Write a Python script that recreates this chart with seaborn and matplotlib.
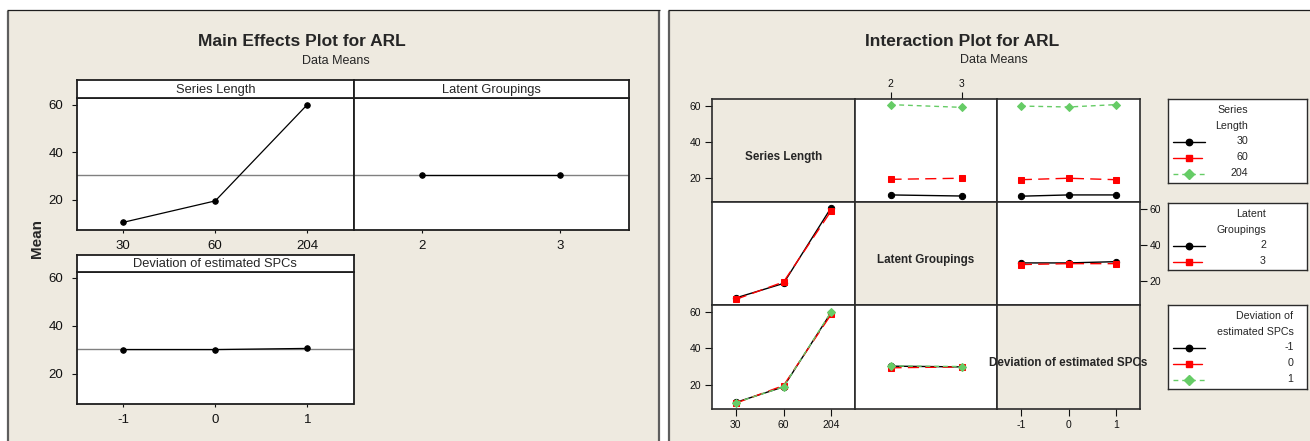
import matplotlib
matplotlib.use("Agg")
import matplotlib.pyplot as plt
from matplotlib.patches import Rectangle
from matplotlib.lines import Line2D
import pandas as pd
import seaborn as sns

# ---- factor levels ----
series_levels = ["30", "60", "204"]
latent_levels = ["2", "3"]
dev_levels = ["-1", "0", "1"]

# ---- main effects: mean ARL at each level ----
series_means = [10.6, 19.6, 60.0]
latent_means = [30.4, 30.4]
dev_means = [30.1, 30.1, 30.6]
grand_mean = 30.3

# ---- interaction means: trace level -> means across the x-factor levels ----
series_by_latent = {"30": [10.8, 10.2], "60": [19.4, 20.0], "204": [60.6, 59.1]}
series_by_dev = {"30": [10.1, 10.8, 10.8], "60": [19.2, 20.0, 19.2], "204": [59.8, 59.3, 60.6]}
latent_by_series = {"2": [10.8, 18.8, 60.6], "3": [10.0, 19.6, 58.8]}
latent_by_dev = {"2": [30.1, 30.1, 30.8], "3": [29.2, 29.7, 29.7]}
dev_by_series = {"-1": [10.5, 19.0, 59.6], "0": [10.1, 19.7, 58.6], "1": [10.4, 19.0, 60.0]}
dev_by_latent = {"-1": [30.3, 29.9], "0": [29.4, 29.9], "1": [30.4, 30.1]}

factor_names = ["Series Length", "Latent Groupings", "Deviation of estimated SPCs"]
legend_titles = [["Series", "Length"], ["Latent", "Groupings"], ["Deviation of", "estimated SPCs"]]
y_ticks = [20, 40, 60]

# ---- styling ----
sns.set_theme(style="white")
plt.rcParams["font.family"] = ["Liberation Sans", "DejaVu Sans"]

BG = "#EEEAE0"
FRAME = "#2b2b2b"
trace_colors = ["#000000", "#FF0000", "#66CC66"]
trace_markers = ["o", "s", "D"]
trace_dashes = ["-", (0, (8, 4.5)), (0, (3.5, 2.8))]

W, H = 1310, 441
fig = plt.figure(figsize=(W / 100, H / 100), dpi=100, facecolor="white")


def fx(x):
    return x / W


def fy(y):
    return 1 - y / H


def frac(x0, y0, x1, y1):
    return [x0 / W, 1 - y1 / H, (x1 - x0) / W, (y1 - y0) / H]


def style_spines(ax, color=FRAME, lw=1.2):
    for s in ax.spines.values():
        s.set_visible(True)
        s.set_color(color)
        s.set_linewidth(lw)


# ---- two graph windows ----
for x0, x1 in [(7, 660), (668, 1320)]:
    fig.patches.append(Rectangle((fx(x0), 0), fx(x1) - fx(x0), fy(9.5),
                                 transform=fig.transFigure, facecolor=BG,
                                 edgecolor="none", zorder=-10))
    fig.lines.append(Line2D([fx(x0 + 1), fx(x0 + 1)], [0, fy(10.5)], transform=fig.transFigure,
                            color="#5e5e5e", lw=1.6, solid_capstyle="butt", zorder=-5))
    fig.lines.append(Line2D([fx(x0), fx(x1)], [fy(9.5), fy(9.5)], transform=fig.transFigure,
                            color="#1e1e1e", lw=0.9, solid_capstyle="butt", zorder=-5))
fig.lines.append(Line2D([fx(659), fx(659)], [0, fy(10.5)], transform=fig.transFigure,
                        color="#5e5e5e", lw=1.6, solid_capstyle="butt", zorder=-5))

# ================= Main effects plot =================
fig.text(fx(302), fy(41.7), "Main Effects Plot for ARL", ha="center", va="center",
         fontsize=12.5, fontweight="bold")
fig.text(fx(336), fy(61), "Data Means", ha="center", va="center", fontsize=9)
fig.text(fx(37), fy(238), "Mean", ha="center", va="center", rotation=90,
         fontsize=11, fontweight="bold")


def effect_panel(box, head, title, levels, means, left_ticks):
    x0, y0, x1, y1 = box
    ax = fig.add_axes(frac(x0, y0 + head, x1, y1))
    ax.set_facecolor("white")
    ax.axhline(grand_mean, color="#808080", lw=1.0, zorder=1)
    df = pd.DataFrame({"level": levels, "ARL": means})
    sns.pointplot(data=df, x="level", y="ARL", order=levels, color="black",
                  markers="o", linestyles="-", errorbar=None,
                  markersize=4, linewidth=0.9, ax=ax, zorder=3)
    ax.set_xlim(-0.5, len(levels) - 0.5)
    ax.set_ylim(7.4, 62.6)
    ax.set_yticks(y_ticks)
    ax.set_xlabel("")
    ax.set_ylabel("")
    style_spines(ax, "#1e1e1e", 1.3)
    ax.tick_params(axis="x", bottom=True, length=2.5, width=0.8, pad=5,
                   labelsize=9.5, colors="#111111")
    if left_ticks:
        ax.tick_params(axis="y", left=True, length=3.5, width=0.8, pad=6.5,
                       labelsize=9.5, colors="#111111")
    else:
        ax.tick_params(axis="y", left=False, labelleft=False)

    hx = fig.add_axes(frac(x0, y0, x1, y0 + head))
    hx.set_facecolor("white")
    hx.set_xticks([])
    hx.set_yticks([])
    style_spines(hx, "#1e1e1e", 1.3)
    hx.text(0.5, 0.45, title, ha="center", va="center", fontsize=9.3,
            transform=hx.transAxes)
    return ax


effect_panel((77, 80, 353.5, 230), 18.3, factor_names[0], series_levels, series_means, True)
effect_panel((353.5, 80, 629, 230), 18.3, factor_names[1], latent_levels, latent_means, False)
effect_panel((77, 254.7, 353.5, 404), 17, factor_names[2], dev_levels, dev_means, True)

# ================= Interaction plot =================
fig.text(fx(962), fy(41.7), "Interaction Plot for ARL", ha="center", va="center",
         fontsize=12.5, fontweight="bold")
fig.text(fx(994), fy(60), "Data Means", ha="center", va="center", fontsize=9)

xs = [712, 855, 997, 1140]
ys = [99, 202, 305, 409]
factor_levels = [series_levels, latent_levels, dev_levels]
tables = {(0, 1): series_by_latent, (0, 2): series_by_dev,
          (1, 0): latent_by_series, (1, 2): latent_by_dev,
          (2, 0): dev_by_series, (2, 1): dev_by_latent}

for r in range(3):
    for c in range(3):
        ax = fig.add_axes(frac(xs[c], ys[r], xs[c + 1], ys[r + 1]))
        xl = factor_levels[c]
        if r == c:
            ax.set_facecolor(BG)
            ax.text(0.5, 0.44, factor_names[r], ha="center", va="center",
                    fontsize=8.4, fontweight="bold", transform=ax.transAxes,
                    zorder=5)
        else:
            trace = factor_levels[r]
            table = tables[(r, c)]
            rows = [(t, x, v) for t in trace for x, v in zip(xl, table[t])]
            df = pd.DataFrame(rows, columns=["trace", "x", "ARL"])
            n = len(trace)
            ax.set_facecolor("white")
            sns.pointplot(data=df, x="x", y="ARL", hue="trace", order=xl,
                          hue_order=trace, palette=trace_colors[:n],
                          markers=trace_markers[:n], linestyles=trace_dashes[:n],
                          errorbar=None, legend=False, markersize=4.5,
                          linewidth=1.0, ax=ax)
        ax.set_xlim(-0.5, len(xl) - 0.5)
        ax.set_ylim(6.9, 63.7)
        ax.set_xlabel("")
        ax.set_ylabel("")
        ax.set_xticks(range(len(xl)))
        ax.set_xticklabels(xl)
        ax.set_yticks(y_ticks)
        style_spines(ax, FRAME, 1.2)
        ax.tick_params(which="both", left=False, right=False, top=False, bottom=False,
                       labelleft=False, labelright=False, labeltop=False,
                       labelbottom=False, labelsize=7.5, length=5, width=0.8,
                       pad=2.5, colors="#111111")
        if c == 0 and r != 1:
            ax.tick_params(axis="y", left=True, labelleft=True, pad=3)
        if c == 2 and r == 1:
            ax.tick_params(axis="y", right=True, labelright=True, pad=2)
        if r == 0 and c == 1:
            ax.tick_params(axis="x", top=True, labeltop=True, pad=2)
        if r == 2 and c in (0, 2):
            ax.tick_params(axis="x", bottom=True, labelbottom=True, pad=3)

# ---- legends for the trace factors ----
legend_boxes = [(1168, 99, 1307, 183), (1168, 203, 1307, 270), (1168, 305, 1307, 389)]
legend_right = [80, 98, 125.5]
for i, box in enumerate(legend_boxes):
    x0, y0, x1, y1 = box
    lx = fig.add_axes(frac(x0, y0, x1, y1))
    lx.set_facecolor("white")
    lx.set_xlim(0, x1 - x0)
    lx.set_ylim(y1 - y0, 0)
    lx.set_xticks([])
    lx.set_yticks([])
    style_spines(lx, FRAME, 1.0)
    for k, line in enumerate(legend_titles[i]):
        lx.text(legend_right[i], 10.8 + 16 * k, line, ha="right", va="center", fontsize=7.7)
    for j, lev in enumerate(factor_levels[i]):
        yy = 42.5 + 16 * j
        ls = trace_dashes[2] if j == 2 else "-"
        x_end = 33.5 if j == 1 else 37
        lx.plot([4.5, x_end], [yy, yy], color=trace_colors[j], ls=ls, lw=1.0)
        lx.plot([20.5], [yy], marker=trace_markers[j], color=trace_colors[j],
                ms=4.6, ls="none")
        lx.text(legend_right[i], yy, lev, ha="right", va="center", fontsize=7.7)

fig.savefig("out.png", dpi=100, facecolor="white")
